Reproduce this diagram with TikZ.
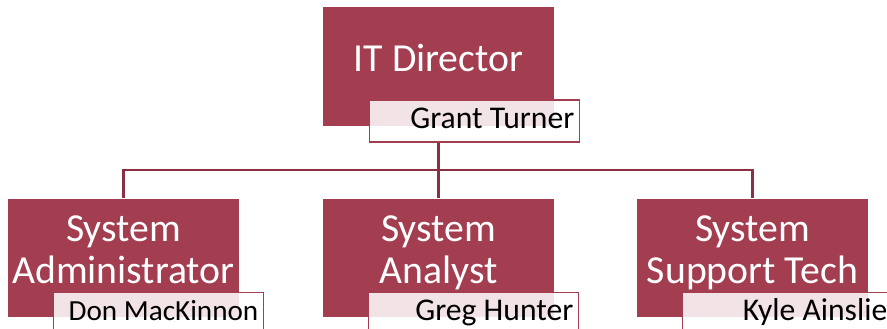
\documentclass[tikz,border=0pt]{standalone}
\usepackage{fontspec}
\setmainfont{Carlito}
\usetikzlibrary{calc}
\definecolor{berry}{HTML}{A33D50}
\definecolor{berrydark}{HTML}{8A3041}
% 姓名右对齐，不换行
\newcommand{\person}[1]{\makebox[4.0cm][r]{\strut #1}}

\begin{document}
\begin{tikzpicture}[scale=1.0,
  rolebox/.style={fill=berry, text=white, minimum width=4.62cm, minimum height=2.37cm,
    inner sep=0pt, align=center, text depth=0.34cm, font=\fontsize{22.6}{23.9}\selectfont},
  namebox/.style={draw=berry, line width=0.8pt, fill=white, fill opacity=0.86, text opacity=1,
    anchor=north west, inner xsep=0.10cm, inner ysep=0pt,
    minimum height=0.84cm, font=\fontsize{18}{21}\selectfont},
  link/.style={draw=berrydark, line width=1.2pt}]

  \useasboundingbox (0,0) rectangle (17.74,6.58);

  \coordinate (T)  at (8.77, 5.25);
  \coordinate (C1) at (2.47, 1.42);
  \coordinate (C2) at (8.77, 1.42);
  \coordinate (C3) at (15.05, 1.42);
  % 分支横线的高度
  \coordinate (bus) at (0, 3.18);

  % 职位方框
  \node[rolebox] (itdir)       at (T)  {IT Director};
  \node[rolebox] (sysadmin)    at (C1) {System\\Administrator};
  \node[rolebox] (sysanalyst)  at (C2) {System\\Analyst};
  \node[rolebox] (supporttech) at (C3) {System\\Support Tech};

  % 姓名标签（压在方框右下角）
  \node[namebox] (itdirName)       at ($(itdir.south west)+(0.92,0.54)$)       {\person{Grant Turner}};
  \node[namebox, font=\fontsize{16.6}{21}\selectfont]
                 (sysadminName)    at ($(sysadmin.south west)+(0.90,0.52)$)    {\person{Don MacKinnon}};
  \node[namebox] (sysanalystName)  at ($(sysanalyst.south west)+(0.90,0.52)$)  {\person{Greg Hunter}};
  \node[namebox] (supporttechName) at ($(supporttech.south west)+(0.90,0.52)$) {\person{Kyle Ainslie}};

  % 连线
  \draw[link] (itdirName.south -| itdir.south) -- (itdir.south |- bus) -| (sysadmin.north);
  \draw[link] (itdir.south |- bus) -| (sysanalyst.north);
  \draw[link] (itdir.south |- bus) -| (supporttech.north);
\end{tikzpicture}
\end{document}
